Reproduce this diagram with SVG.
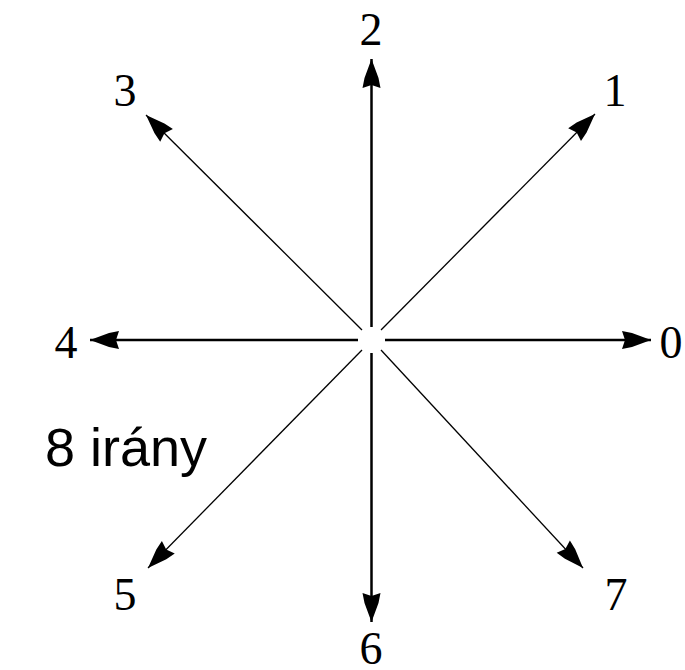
<svg xmlns="http://www.w3.org/2000/svg" width="685" height="670" viewBox="0 0 685 670">
<style>
.lbl{font-family:"Liberation Serif","Times New Roman",serif;font-size:46px;fill:#000;text-anchor:middle}
.big{font-family:"Liberation Sans",Arial,sans-serif;font-size:54px;fill:#000}
.ax{stroke:#000;stroke-width:2.5;fill:none;marker-end:url(#ah)}
.dg{stroke:#000;stroke-width:1.3;fill:none;marker-end:url(#ah)}
</style>
<defs>
<marker id="ah" markerUnits="userSpaceOnUse" markerWidth="34" markerHeight="24" viewBox="-2 -12 34 24" refX="29" refY="0" orient="auto">
<path d="M0,-9 L10,-7 L29,0 L10,7 L0,9 L3,0 Z" fill="#000"/>
</marker>
</defs>
<g id="connectors">
<line class="ax" x1="385" y1="340" x2="651" y2="340"/>
<line class="ax" x1="358" y1="340" x2="90" y2="340"/>
<line class="ax" x1="371.5" y1="327" x2="371.5" y2="59"/>
<line class="ax" x1="371.5" y1="353" x2="371.5" y2="622"/>
<line class="dg" x1="381" y1="330" x2="595" y2="114"/>
<line class="dg" x1="362" y1="330" x2="146" y2="115"/>
<line class="dg" x1="362" y1="350" x2="148" y2="568"/>
<line class="dg" x1="381" y1="350" x2="583" y2="568"/>
</g>
<g id="n0"><text class="lbl" x="671" y="358">0</text></g>
<g id="n1"><text class="lbl" x="615" y="106">1</text></g>
<g id="n2"><text class="lbl" x="371" y="45">2</text></g>
<g id="n3"><text class="lbl" x="125" y="106">3</text></g>
<g id="n4"><text class="lbl" x="66" y="358">4</text></g>
<g id="n5"><text class="lbl" x="125" y="610">5</text></g>
<g id="n6"><text class="lbl" x="371" y="664">6</text></g>
<g id="n7"><text class="lbl" x="616" y="610">7</text></g>
<g id="title"><text class="big" x="45" y="466">8 irány</text></g>
</svg>
